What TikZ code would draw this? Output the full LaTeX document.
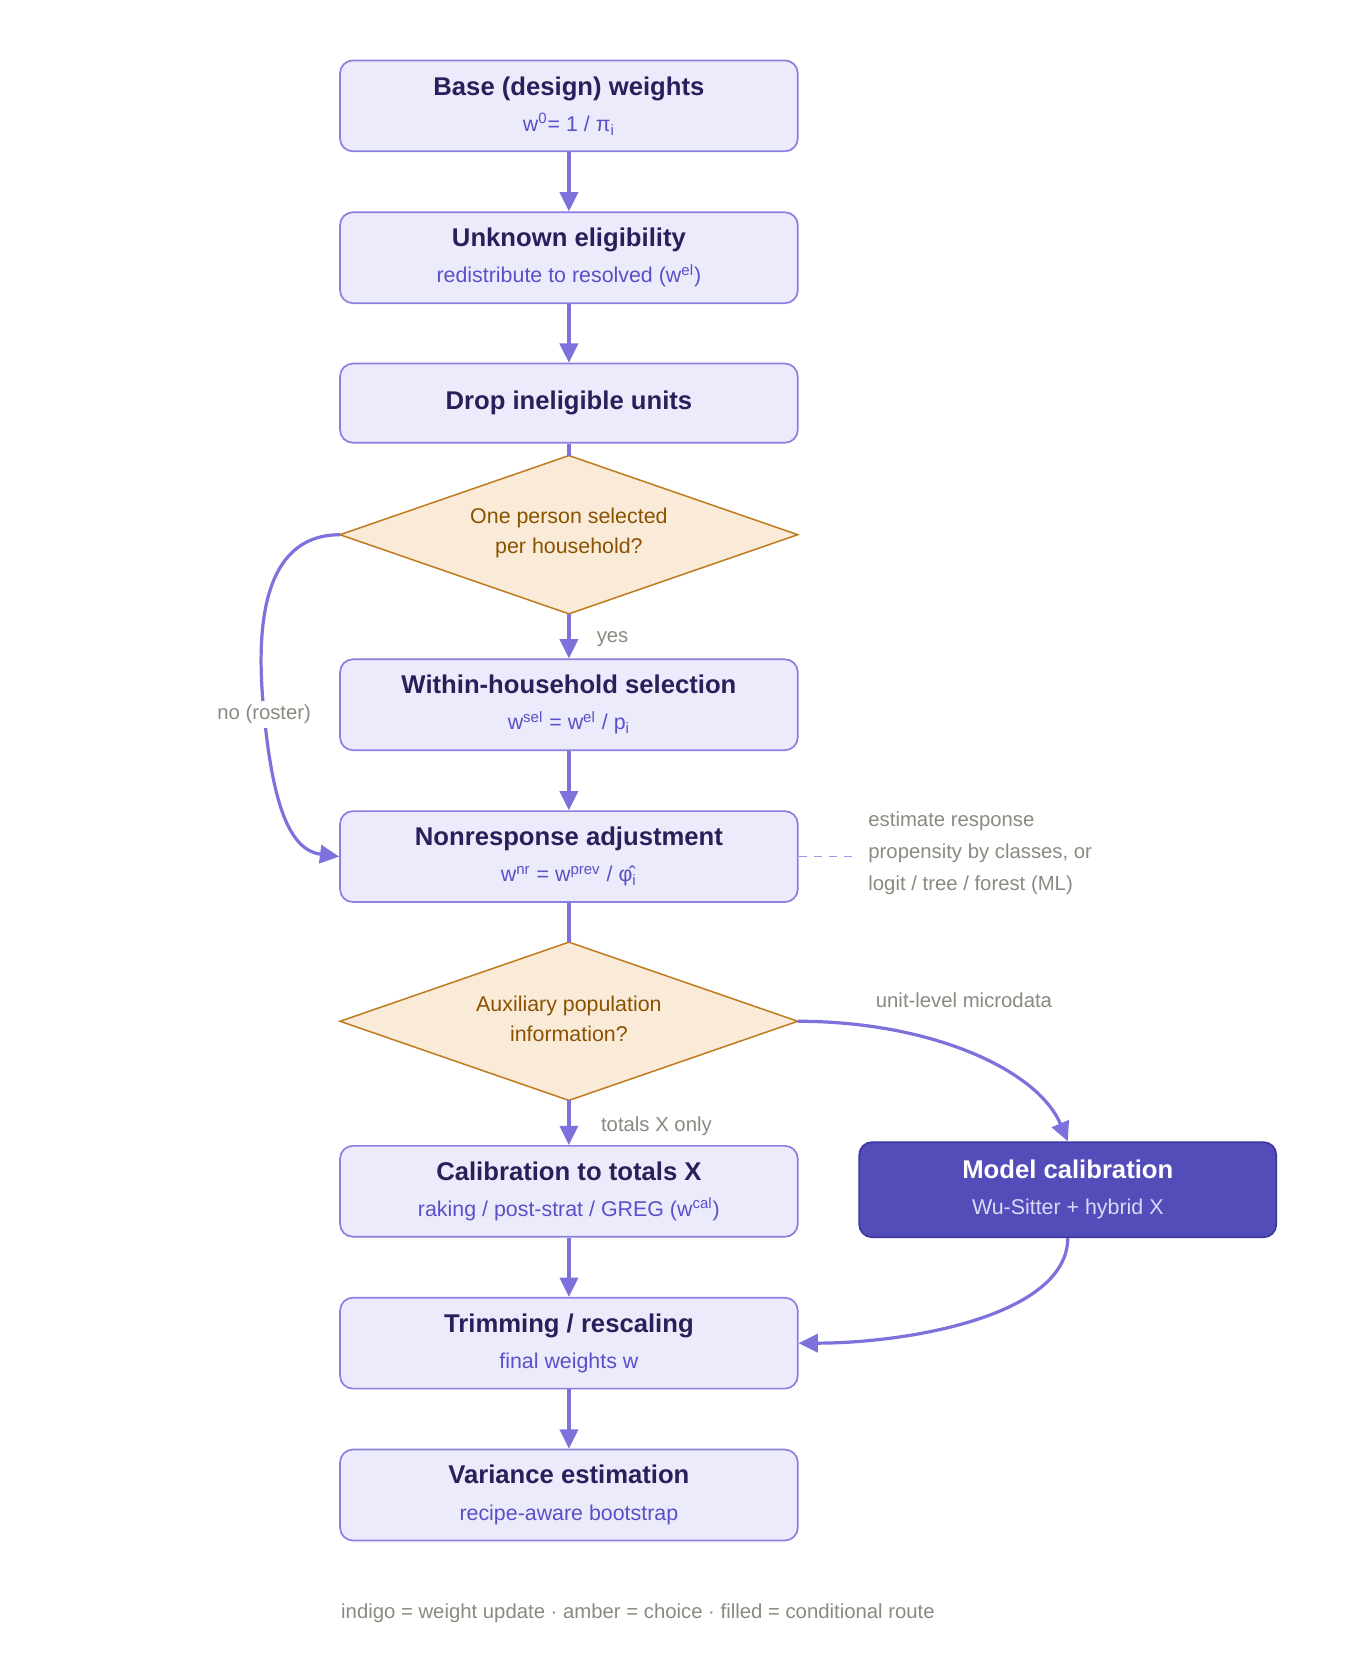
\documentclass[tikz,border=0pt]{standalone}
\usepackage{fontspec}
\setmainfont{Liberation Sans}
\usetikzlibrary{arrows.meta}
\definecolor{bfill}{HTML}{ECEBFB}
\definecolor{bdraw}{HTML}{8B80E0}
\definecolor{btitle}{HTML}{27205A}
\definecolor{bsub}{HTML}{5A4FC8}
\definecolor{arr}{HTML}{7D72DB}
\definecolor{dfill}{HTML}{FAEBD8}
\definecolor{ddraw}{HTML}{C07A1E}
\definecolor{dtext}{HTML}{8A5200}
\definecolor{note}{HTML}{8A8A80}
\definecolor{mfill}{HTML}{544CB9}
\definecolor{mdraw}{HTML}{3F38A0}
\definecolor{msub}{HTML}{DCD9F7}
\tikzset{
 stepbox/.style={draw=bdraw,fill=bfill,line width=0.8pt,rounded corners=6pt,minimum width=214pt,minimum height=42.5pt,align=center,inner sep=0pt},
 modelbox/.style={draw=mdraw,fill=mfill,line width=0.8pt,rounded corners=6pt,minimum width=195pt,minimum height=44.5pt,align=center,inner sep=0pt},
 dia/.style={draw=ddraw,fill=dfill,line width=0.7pt},
 flow/.style={draw=arr,line width=1.5pt,-{Triangle[length=9pt,width=8.5pt]}},
 notetxt/.style={text=note,font=\fontsize{9.5pt}{15pt}\selectfont},
}
\newcommand{\bt}[1]{{\color{btitle}\fontsize{12pt}{14pt}\selectfont\bfseries #1}}
\newcommand{\bs}[1]{{\color{bsub}\fontsize{10pt}{12pt}\selectfont #1}}
\begin{document}
\begin{tikzpicture}[x=0.5pt,y=-0.5pt]
\useasboundingbox[fill=white] (0,0) rectangle (1272,1571);
\node[stepbox] (b1) at (532,99) {\bt{Base (design) weights}\\[5pt]\bs{w\textsuperscript{0}= 1 / π\textsubscript{i}}};
\node[stepbox] (b2) at (532,241) {\bt{Unknown eligibility}\\[5pt]\bs{redistribute to resolved (w\textsuperscript{el})}};
\node[stepbox,minimum height=37pt] (b3) at (532,377) {\bt{Drop ineligible units}};
% diamond 1
\draw[dia] (318,500) coordinate (d1w) -- (532,426) coordinate (d1n) -- (746,500) coordinate (d1e) -- (532,574) coordinate (d1s) -- cycle;
\node[text=dtext,align=center,font=\fontsize{10pt}{14pt}\selectfont] (d1) at (532,498) {One person selected\\per household?};
\node[stepbox] (b4) at (532,659) {\bt{Within-household selection}\\[5pt]\bs{w\textsuperscript{sel} = w\textsuperscript{el} / p\textsubscript{i}}};
\node[stepbox] (b5) at (532,801) {\bt{Nonresponse adjustment}\\[5pt]\bs{w\textsuperscript{nr} = w\textsuperscript{prev} / φ̂\textsubscript{i}}};
% diamond 2
\draw[dia] (318,955) coordinate (d2w) -- (532,881) coordinate (d2n) -- (746,955) coordinate (d2e) -- (532,1029) coordinate (d2s) -- cycle;
\node[text=dtext,align=center,font=\fontsize{10pt}{14pt}\selectfont] (d2) at (532,953) {Auxiliary population\\information?};
\node[stepbox] (b6) at (532,1114) {\bt{Calibration to totals X}\\[5pt]\bs{raking / post-strat / GREG (w\textsuperscript{cal})}};
\node[modelbox] (mc) at (998.5,1112.5) {{\color{white}\fontsize{12pt}{14pt}\selectfont\bfseries Model calibration}\\[5pt]{\color{msub}\fontsize{10pt}{12pt}\selectfont Wu-Sitter + hybrid X}};
\node[stepbox] (b7) at (532,1256) {\bt{Trimming / rescaling}\\[5pt]\bs{final weights w}};
\node[stepbox] (b8) at (532,1398) {\bt{Variance estimation}\\[5pt]\bs{recipe-aware bootstrap}};
% connectors
\draw[flow] (b1) -- (b2);
\draw[flow] (b2) -- (b3);
\draw[draw=arr,line width=1.5pt] (b3) -- (d1n);
\draw[flow] (d1s) -- (b4);
\draw[flow] (b4) -- (b5);
\draw[draw=arr,line width=1.5pt] (b5) -- (d2n);
\draw[flow] (d2s) -- (b6);
\draw[flow] (b6) -- (b7);
\draw[flow] (b7) -- (b8);
\draw[flow] (d1w) .. controls (240,500) and (240,600) .. (247,668) .. controls (255,750) and (270,795) .. (b5.west);
\draw[flow] (d2e) .. controls (870,955) and (970,1000) .. (mc.north);
\draw[flow] (mc.south) .. controls (998,1230) and (850,1256) .. (b7.east);
\draw[draw=bdraw!80,line width=0.8pt,dash pattern=on 4pt off 3pt] (b5.east) -- (800,801) coordinate (nt);
% labels
\node[notetxt,anchor=west] (ly) at (551,598) {yes};
\node[notetxt,fill=white,inner sep=2pt] (ln) at (247,668) {no (roster)};
\node[notetxt,anchor=west] (lt) at (555,1053) {totals X only};
\node[notetxt,anchor=west] (lu) at (812,935) {unit-level microdata};
\node[notetxt,anchor=west,align=left,font=\fontsize{9.5pt}{15pt}\selectfont] (lnr) at (805,798) {estimate response\\propensity by classes, or\\logit / tree / forest (ML)};
\node[notetxt,anchor=west] (leg) at (312,1509) {indigo = weight update · amber = choice · filled = conditional route};
\end{tikzpicture}
\end{document}
